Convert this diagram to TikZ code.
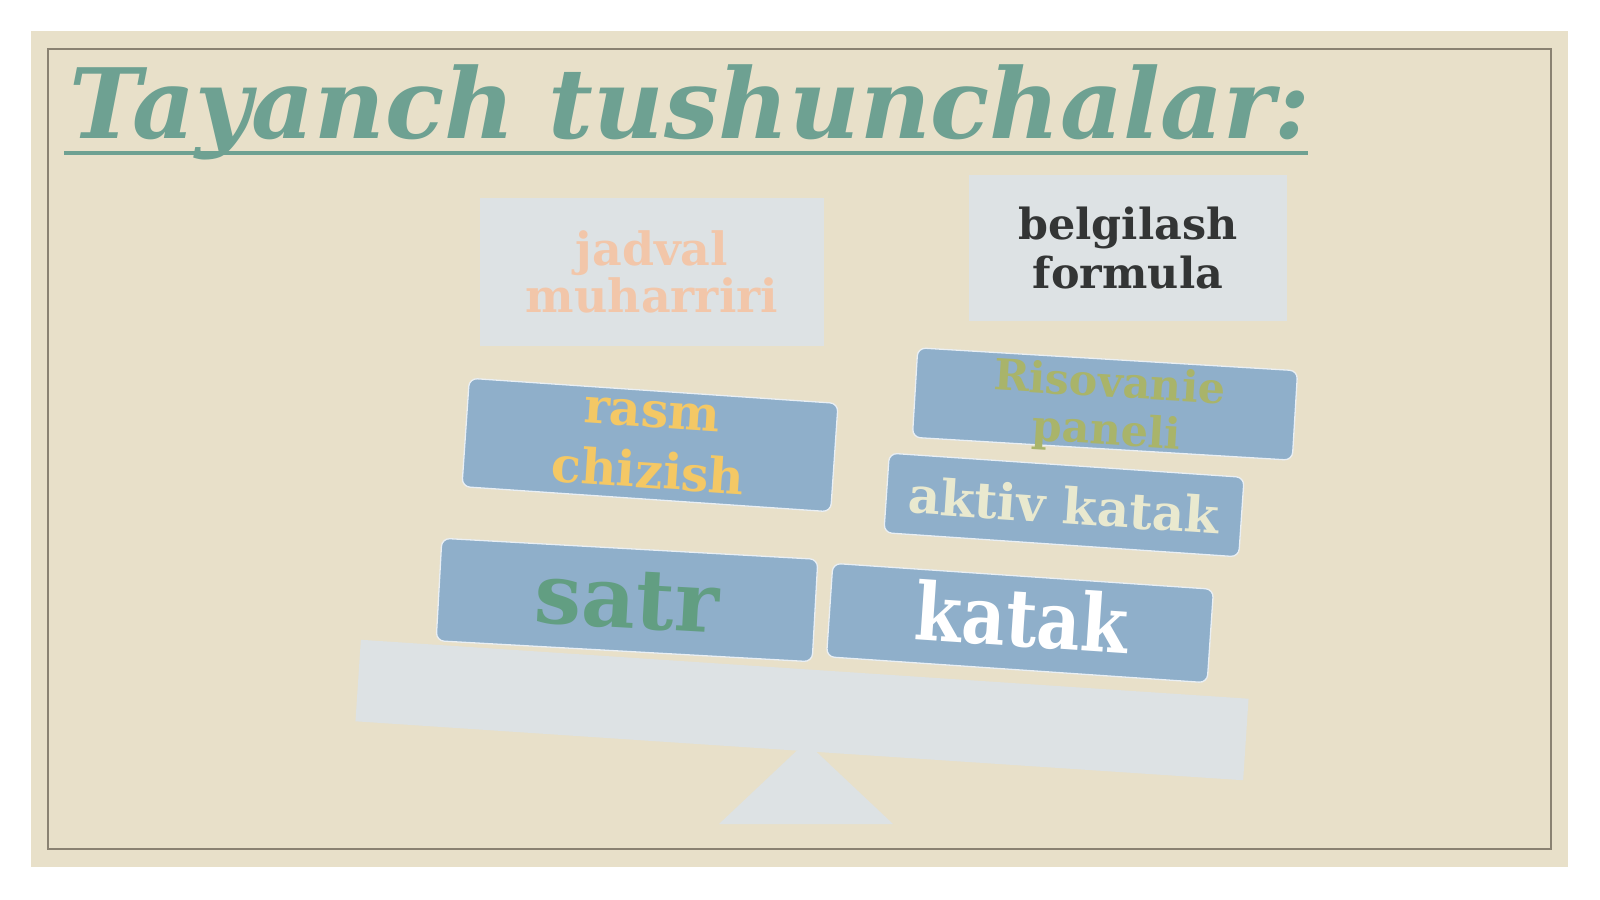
\documentclass[tikz,border=0pt]{standalone}
\usepackage{fontspec}
\usepackage{graphicx}
\setmainfont{DejaVu Serif}
\definecolor{beige}{HTML}{E8E0C9}
\definecolor{bordercol}{HTML}{8A8272}
\definecolor{titlegreen}{HTML}{6EA192}
\definecolor{pale}{HTML}{DDE2E4}
\definecolor{boxblue}{HTML}{8FAFCA}
\definecolor{peach}{HTML}{F2C6A9}
\definecolor{darktext}{HTML}{333535}
\definecolor{olive}{HTML}{A9B46A}
\definecolor{cream}{HTML}{E9E9CF}
\definecolor{goldtext}{HTML}{F4C865}
\definecolor{satrgreen}{HTML}{629E82}
\begin{document}
\begin{tikzpicture}[x=1bp,y=-1bp,
  palebox/.style={fill=pale, inner sep=0pt, outer sep=0pt},
  bluebox/.style={rounded corners=8bp, fill=boxblue, draw=white!80!boxblue, line width=1.3bp, inner sep=0pt, outer sep=0pt, align=center},
  fs/.style 2 args={font=\fontsize{#1}{#2}\selectfont\bfseries}]
\useasboundingbox (0,0) rectangle (1600,899);
\fill[white] (0,0) rectangle (1600,899);
\fill[beige] (31,31) rectangle (1568,867);
\draw[bordercol, line width=1.3bp] (48,49) rectangle (1551,849);
% title
\node[anchor=base west, inner sep=0pt, text=titlegreen, font=\fontsize{97.5}{97.5}\selectfont\bfseries\itshape] (title) at (69,138) {Tayanch tushunchalar:};
\draw[titlegreen, line width=4bp] (64,153) -- (1308,153);
% pale boxes
\node[palebox, minimum width=345, minimum height=149, align=center, text=peach, fs={46}{47}] (jadval) at (652,272) {jadval\\muharriri};
\node[palebox, minimum width=320, minimum height=147, align=center, text=darktext, fs={43}{50}] (belg) at (1128,248) {belgilash\\formula};
% balance
\coordinate (apex) at (806,742);
\coordinate (baseR) at (893,824);
\coordinate (baseL) at (719,824);
\fill[pale] (apex) -- (baseR) -- (baseL) -- cycle;
\node[palebox, rotate=-3.8, minimum width=893, minimum height=82] (plank) at (802,710) {};
% blue boxes
\node[bluebox, rotate=-3.45, minimum width=382, minimum height=90, text=olive, fs={43}{48}] (riso) at (1105,404) {};
\node[rotate=-3.45, align=center, inner sep=0pt, text=olive, fs={43}{48}] (risotext) at (1108,409) {Risovanie\\paneli};
\node[bluebox, rotate=-3.9, minimum width=357, minimum height=80, text=cream, fs={50}{50}] (aktiv) at (1064,505) {aktiv katak};
\node[bluebox, rotate=-3.9, minimum width=371, minimum height=109, text=goldtext, fs={49}{61}] (rasm) at (650,445) {rasm\\chizish};
\node[bluebox, rotate=-3.2, minimum width=378, minimum height=103, text=satrgreen, fs={84}{84}] (satr) at (627,600) {satr};
\node[bluebox, rotate=-3.9, minimum width=383, minimum height=94, fs={80}{80}] (katak) at (1020,623) {};
\node[rotate=-3.9, inner sep=0pt, text=white, fs={80}{80}] (kataktext) at (1022,617) {\scalebox{0.85}[1]{katak}};
\end{tikzpicture}
\end{document}
